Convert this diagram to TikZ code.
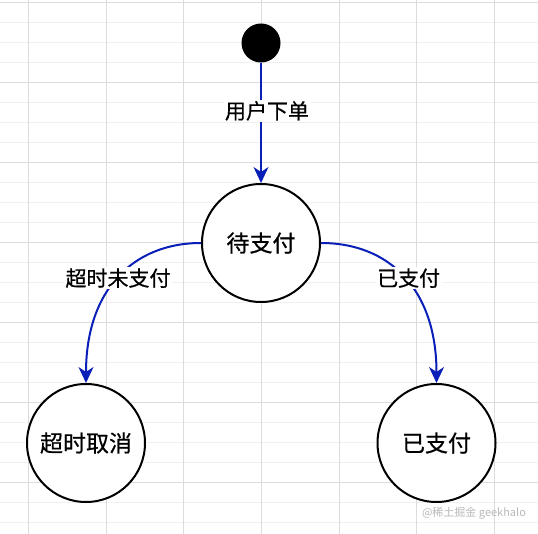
\documentclass[tikz,border=0pt]{standalone}
\usepackage{fontspec}
\setmainfont{Liberation Sans}
\newfontfamily\cjk{Noto Sans CJK SC}[FakeBold=0.6]
\newfontfamily\cjkwm{Noto Sans CJK SC}
\usetikzlibrary{arrows.meta}
\definecolor{edgeblue}{HTML}{0A1FB8}
\definecolor{gridmajor}{HTML}{DCDCDC}
\definecolor{gridminor}{HTML}{F0F0F0}
\begin{document}
\begin{tikzpicture}[x=1pt,y=-1pt,
  state/.style={circle,draw=black,line width=2pt,fill=white,minimum size=118pt,inner sep=0pt,font=\cjk\fontsize{23}{26}\selectfont},
  edgelbl/.style={fill=white,inner sep=1.5pt,font=\cjk\fontsize{21}{24}\selectfont},
  trans/.style={draw=edgeblue,line width=2pt,-{Stealth[length=16pt,width=15pt,inset=5pt]}}]
\useasboundingbox (0,0) rectangle (538,534);
\fill[white] (0,0) rectangle (538,534);
% grid
\foreach \y in {22,42,62,102,122,142,182,202,222,262,282,302,342,362,382,422,442,462,502,522}
  \draw[gridminor,line width=0.8pt] (0,\y) -- (538,\y);
\foreach \y in {2,82,162,242,322,402,482}
  \draw[gridmajor,line width=0.8pt] (0,\y) -- (538,\y);
\foreach \x in {28,106,183,261,339,416,494}
  \draw[gridmajor,line width=0.8pt] (\x,0) -- (\x,534);
% nodes
\node[circle,fill=black,minimum size=39pt,inner sep=0pt] (start) at (261,43) {};
\node[state] (wait) at (261,243) {待支付};
\node[state] (cancel) at (86,443) {超时取消};
\node[state] (paid) at (436.5,443) {已支付};
% edges
\draw[trans] (start) -- node[edgelbl,xshift=6pt,pos=0.4] {用户下单} (wait);
\draw[trans] (wait.west) .. controls (133,243) and (86,290) .. node[edgelbl,pos=0.5] {超时未支付} (cancel.north);
\draw[trans] (wait.east) .. controls (390,243) and (436.5,290) .. node[edgelbl,pos=0.5,xshift=4pt] {已支付} (paid.north);
% watermark
\node[text=gray!55,font=\cjkwm\fontsize{11}{13}\selectfont,anchor=center] (wm) at (474,513) {@稀土掘金 geekhalo};
\end{tikzpicture}
\end{document}
